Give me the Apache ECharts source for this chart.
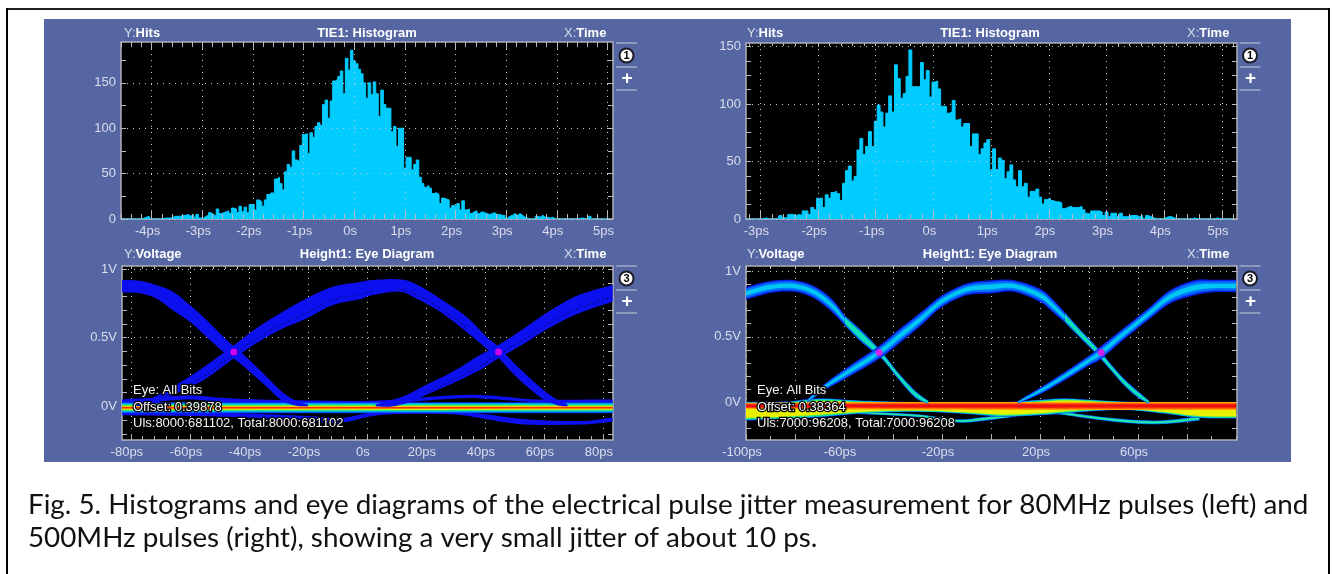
<!DOCTYPE html>
<html><head><meta charset="utf-8">
<style>html,body{margin:0;padding:0;background:#fff}#c{width:1333px;height:574px}</style>
<script src="https://cdn.jsdelivr.net/npm/echarts@6/dist/echarts.min.js"></script>
</head><body><div id="c"></div>
<script>
// ---------- histogram values (hits per 0.05 ps bin) ----------
const binWidth = 0.05;
const binStartLeft = -4.6;
const hitsLeft = [
 0,0,0,0,0,0,0,0,0,1,2,3,0,0,0,0,0,1,1,1,2,3,
 3,3,4,4,5,3,5,2,5,1,1,3,4,7,5,3,11,6,7,8,
 9,6,12,11,7,14,8,13,7,16,16,10,21,19,14,21,27,29,28,44,46,
 39,32,52,60,57,75,65,63,81,93,94,72,95,90,102,106,103,126,131,111,130,152,154,157,163,138,177,164,
 186,174,171,165,160,150,133,150,137,151,138,113,142,126,122,122,96,102,80,100,100,56,68,68,54,60,65,46,39,35,
 37,34,28,29,27,17,23,22,21,12,15,14,17,10,20,10,11,6,8,9,6,8,7,6,5,6,7,5,5,4,
 4,1,3,4,6,4,6,4,2,1,0,0,0,3,2,4,2,2,1,2,0,0,0,0,0,0,0,0,0,0,1,1,0,0,3,0,0,0,0,0,0,0,0];
const binStartRight = -3.25;
const hitsRight = [
 0,0,0,0,0,0,0,1,0,0,0,0,3,1,1,4,4,3,4,3,7,7,4,10,8,18,18,10,21,18,23,24,22,16,
 31,42,46,33,37,60,70,56,63,76,63,85,99,93,80,92,107,93,134,122,105,109,124,147,115,115,115,136,121,129,
 106,119,120,113,98,98,92,93,103,86,87,80,83,83,63,74,74,56,61,66,69,42,61,43,53,51,35,41,47,34,28,42,28,31,
 19,24,24,26,19,13,17,18,16,15,15,14,9,10,11,10,10,10,11,8,5,4,7,7,7,6,3,6,2,5,5,2,5,2,2,3,3,3,2,3,0,3,2,1,
 0,0,0,1,2,2,1,0,0,0,0,0,0,1,0,0,0,0,0,0,0,1,0,0,0,0,0,0];

// ---------- axis ticks ----------
const hitsTicksLeft = [0,50,100,150];
const hitsTicksRight = [0,50,100,150];
const psTicksLeft = [-4,-3,-2,-1,0,1,2,3,4,5];
const psTicksRight = [-3,-2,-1,0,1,2,3,4,5];
const voltTicks = [0,0.5,1];
const eyeTicksLeft = [-80,-60,-40,-20,0,20,40,60,80];
const eyeTicksRight = [-100,-80,-60,-40,-20,0,20,40,60,80];
const eyeLabelsRight = [-100,-60,-20,20,60];

// ---------- eye-diagram envelopes: [time ps, upper V, lower V] ----------
const fallLeftA = [[-83,.92,.83],[-77,.915,.823],[-71.4,.883,.786],[-65.8,.835,.70],[-60,.738,.616],[-54.4,.629,.507],[-48.7,.507,.398],[-45,.434,.345],[-41,.362,.277],[-34,.216,.143],[-28.7,.105,.04],[-24,.04,.005],[-20,.015,0]];
const riseLeftA = [[-78,.02,0],[-72,.07,.02],[-68,.119,.058],[-61,.204,.131],[-54.4,.30,.204],[-45,.447,.35],[-37.5,.568,.459],[-29.6,.675,.556],[-20.5,.786,.64],[-11.5,.871,.738],[-2.5,.905,.78],[2,.92,.81],[11,.925,.835],[16.7,.89,.786],[24.7,.786,.69],[33.7,.653,.544],[40.5,.507,.422],[44.6,.434,.352],[50.6,.30,.216],[58.5,.143,.07],[64.2,.052,.01],[68,.015,0]];
const riseLeftB = [[3,.015,0],[7.7,.04,-.002],[13.4,.083,.022],[20,.155,.083],[29,.252,.167],[38.3,.374,.265],[44.6,.447,.35],[52.5,.556,.447],[61.5,.689,.568],[71.7,.81,.677],[83.3,.883,.762]];
const baseLeft = [[-83,.03,-.05],[0,.03,-.05],[83.3,.03,-.05]];
const overLeft = [[-83,.05,.02],[-71,.065,.035],[-60,.08,.05],[-48,.06,.03],[-37,.05,.025],[-26,.045,.02],[0,.04,.02],[13,.055,.03],[25,.075,.05],[36,.085,.06],[47,.07,.045],[58,.05,.03],[83.3,.05,.03]];
const underLeft = [[-83,-.04,-.065],[-60,-.045,-.07],[-43,-.05,-.08],[-20,-.07,-.105],[-9,-.085,-.12],[2,-.045,-.07],[13,-.035,-.055],[30,-.04,-.06],[41,-.06,-.095],[52,-.09,-.13],[64,-.105,-.135],[75,-.105,-.13],[83.3,-.08,-.11]];

const topRightA = [[-100,.88,.783],[-90,.926,.834],[-80,.931,.842],[-72,.885,.79],[-65,.79,.689],[-59.7,.663,.587]];
const fallRightA = [[-59.7,.663,.587],[-53,.55,.46],[-45.7,.41,.35],[-42,.325,.275],[-38,.23,.18],[-31,.09,.035],[-25.6,.012,-.012]];
const riseRightA = [[-75,.02,-.005],[-68,.14,.09],[-58.4,.27,.19],[-45.7,.43,.33],[-38,.55,.44],[-28.5,.69,.587],[-20,.816,.727],[-10,.906,.816],[0,.931,.83],[9.5,.931,.842],[20,.867,.765],[25,.79,.69],[30,.69,.61]];
const fallRightB = [[30,.69,.61],[36.7,.55,.485],[42.8,.43,.37],[48.9,.293,.242],[54.3,.18,.128],[59.7,.09,.038],[64.5,.013,-.013]];
const riseRightB = [[11,.01,-.01],[20.3,.115,.064],[30,.23,.166],[40,.357,.28],[45,.43,.33],[53,.55,.46],[64,.714,.625],[73,.855,.752],[83,.931,.816],[91,.935,.84],[100,.935,.84]];
const mainRight = [[-100,.005,-.14],[-85,.005,-.13],[-70,.03,-.115],[-55,.015,-.09],[-40,.005,-.075],[-25,0,-.075],[-10,0,-.09],[5,0,-.11],[20,.02,-.10],[30,.03,-.085],[40,.02,-.07],[55,.005,-.06],[70,0,-.085],[85,-.01,-.12],[100,-.01,-.125]];
const coreRight = [[-100,-.015,-.04],[-50,-.012,-.042],[0,-.012,-.044],[50,-.012,-.044],[100,-.012,-.044]];
const underRightA = [[-60,-.065,-.085],[-31,-.09,-.112],[-14,-.13,-.155],[-2,-.11,-.14],[10,-.09,-.11]];
const underRightB = [[20,-.06,-.078],[30,-.075,-.098],[45,-.11,-.138],[60,-.135,-.165],[72,-.135,-.165],[85,-.105,-.14]];

const crossLeft = [[-45.1,.396],[44.6,.396]];
const crossRight = [[-45.7,.38],[45,.38]];

// ---------- text ----------
const captionLines = [
 'Fig. 5. Histograms and eye diagrams of the electrical pulse jitter measurement for 80MHz pulses (left) and',
 '500MHz pulses (right), showing a very small jitter of about 10 ps.'
];

// ---------- styles / layout ----------
const SANS = '"Liberation Sans", Arial, sans-serif';
const labelColor = '#dadeeb', tickColor = '#b9bac0', panelBlue = '#5566a3', dotColor = '#c8c8c8';
const grids = [
 {left:121, top:42, width:492, height:177},
 {left:746, top:43, width:491, height:176},
 {left:122, top:266, width:491, height:174},
 {left:746, top:266, width:491, height:174}
].map(g => Object.assign(g, {show:true, backgroundColor:'#000', borderColor:'#aeb0ba', borderWidth:1.5}));

function steps(min, max, step) { const o = []; for (let i = Math.ceil(min/step); i*step <= max; i++) o.push(+(i*step).toFixed(4)); return o; }

function makeAxes(dim, gridIndex, min, max, majors, minorStep, labels, fmt, majorLen, minorLen, oppLen) {
  const main = dim === 'x' ? 'bottom' : 'left', opp = dim === 'x' ? 'top' : 'right';
  const tl = {color: tickColor, width: 1};
  const base = {type:'value', gridIndex, min, max, silent:true, z:3, axisLine:{show:false, onZero:false}, axisLabel:{show:false}, splitLine:{show:false}};
  const labelExtra = dim === 'x' ? {margin:6, padding:[0,8,0,0]} : {margin:5};
  const minors = steps(min, max, minorStep);
  return [
    Object.assign({}, base, {position:main,
      axisTick:{show:true, inside:true, length:majorLen, customValues:majors, lineStyle:tl},
      axisLabel:Object.assign({show:true, customValues:labels, formatter:fmt, color:labelColor, fontSize:13, fontFamily:SANS, hideOverlap:false}, labelExtra),
      splitLine:{show:true, lineStyle:{color:dotColor, width:1, type:[1,5]}}}),
    Object.assign({}, base, {position:opp, axisTick:{show:true, inside:true, length:oppLen, customValues:majors, lineStyle:tl}}),
    Object.assign({}, base, {position:main, axisTick:{show:true, inside:true, length:minorLen, customValues:minors, lineStyle:tl}}),
    Object.assign({}, base, {position:opp, axisTick:{show:true, inside:true, length:Math.min(minorLen, oppLen), customValues:minors, lineStyle:tl}})
  ];
}
const psFmt = v => v === 0 ? '0s' : v + 'ps';
const plainFmt = v => String(v);
const voltFmt = v => v + 'V';

const xAxes = [].concat(
  makeAxes('x',0,-4.605,5.11,psTicksLeft,0.2,psTicksLeft,psFmt,9,5,8),
  makeAxes('x',1,-3.248,5.26,psTicksRight,0.2,psTicksRight,psFmt,9,5,3),
  makeAxes('x',2,-83,83.4,eyeTicksLeft,4,eyeTicksLeft,psFmt,6,4,3),
  makeAxes('x',3,-100,100.4,eyeTicksRight,10,eyeLabelsRight,psFmt,6,4,3)
);
const yAxes = [].concat(
  makeAxes('y',0,0,195,hitsTicksLeft,25,hitsTicksLeft,plainFmt,5,5,5),
  makeAxes('y',1,0,153,hitsTicksRight,12.5,hitsTicksRight,plainFmt,5,5,5),
  makeAxes('y',2,-.245,1.022,voltTicks,.1,voltTicks,voltFmt,5,5,5),
  makeAxes('y',3,-.288,1.04,voltTicks,.1,voltTicks,voltFmt,5,5,5)
);

function histSeries(g, start, values) {
  return {type:'line', step:'middle', xAxisIndex:g*4, yAxisIndex:g*4, showSymbol:false, z:2,
    data: values.map((v,i) => [+(start + i*binWidth).toFixed(3), v]),
    lineStyle:{color:'#00ccff', width:1}, itemStyle:{color:'#00ccff'}, areaStyle:{color:'#00ccff', opacity:1}, silent:true};
}
// smooth a screen-space polyline (rendering only; anchor points come from the axis scales)
function spline(pts) {
  const out = [];
  for (let i = 0; i < pts.length - 1; i++) {
    const p0 = pts[Math.max(i-1,0)], p1 = pts[i], p2 = pts[i+1], p3 = pts[Math.min(i+2,pts.length-1)];
    for (let k = 0; k < 8; k++) {
      const t = k/8, t2 = t*t, t3 = t2*t;
      out.push([0,1].map(d => .5*(2*p1[d] + (p2[d]-p0[d])*t + (2*p0[d]-5*p1[d]+4*p2[d]-p3[d])*t2 + (3*p1[d]-p0[d]-3*p2[d]+p3[d])*t3)));
    }
  }
  out.push(pts[pts.length-1]);
  return out;
}
function bandSeries(g, rows, layers) {
  return layers.map(([scale, fill]) => ({
    type:'custom', xAxisIndex:g*4, yAxisIndex:g*4, z:4, silent:true, data:rows,
    dimensions:['t','hi','lo'], encode:{x:0, y:[1,2]},
    renderItem(params, api) {
      if (params.dataIndex !== 0) return null;
      const up = [], dn = [];
      rows.forEach(r => {
        const mid = (r[1]+r[2])/2;
        up.push(api.coord([r[0], mid + (r[1]-mid)*scale]));
        dn.push(api.coord([r[0], mid + (r[2]-mid)*scale]));
      });
      return {type:'polygon', shape:{points:spline(up).concat(spline(dn).reverse())}, style:{fill}};
    }
  }));
}
function speckle(g, rows) {
  return {type:'line', smooth:true, xAxisIndex:g*4, yAxisIndex:g*4, z:5, silent:true, showSymbol:false,
    data: rows.map(r => [r[0], r[2] + (r[1]-r[2])*.27]),
    lineStyle:{color:'#000', width:1.2, type:[1,3], opacity:.75}};
}
const crossSeries = (g, pts) => ({type:'scatter', xAxisIndex:g*4, yAxisIndex:g*4, z:6, silent:true, data:pts,
  symbolSize:7, itemStyle:{color:'#ff00ee'}});

const bluePure = [[1,'#0c10ee']];
const rainbow = [[1,'#0838ff'],[.84,'#009cf5'],[.66,'#00dcc0'],[.5,'#38e848'],[.36,'#f0f000'],[.22,'#ff9800'],[.1,'#ee1010']];
const eyeBlue = [[1,'#0a20e8'],[.74,'#0070ff'],[.36,'#00c8f0']];
const eyeThin = [[1,'#0060f0'],[.62,'#10e0b8']];
const swing = [[1,'#0050f0'],[.7,'#00d0e0'],[.35,'#30e890']];
const mainLayers = [[1,'#0040f0'],[.93,'#00c8e0'],[.84,'#30e870'],[.72,'#e8f000']];
const coreLayers = [[1.9,'#ffa000'],[1.3,'#ff5000'],[.8,'#ee1010']];

const series = [
  histSeries(0, binStartLeft, hitsLeft),
  histSeries(1, binStartRight, hitsRight),
  ...bandSeries(2, overLeft, bluePure),
  ...bandSeries(2, underLeft, bluePure),
  ...bandSeries(2, baseLeft, rainbow),
  ...bandSeries(2, fallLeftA, bluePure),
  ...bandSeries(2, riseLeftA, bluePure),
  ...bandSeries(2, riseLeftB, bluePure),
  speckle(2, riseLeftA.slice(2,12)),
  speckle(2, riseLeftA.slice(12,16)),
  speckle(2, riseLeftB.slice(3)),
  crossSeries(2, crossLeft),
  ...bandSeries(3, underRightA, swing),
  ...bandSeries(3, underRightB, swing),
  ...bandSeries(3, mainRight, mainLayers),
  ...bandSeries(3, coreRight, coreLayers),
  ...bandSeries(3, fallRightA, eyeThin),
  ...bandSeries(3, fallRightB, eyeThin),
  ...bandSeries(3, topRightA, eyeBlue),
  ...bandSeries(3, riseRightA, eyeBlue),
  ...bandSeries(3, riseRightB, eyeBlue),
  crossSeries(3, crossRight)
];

// panel headers
const rich = {r:{color:labelColor, fontSize:13, fontWeight:'normal', fontFamily:SANS}, b:{color:'#fff', fontSize:13, fontWeight:'bold', fontFamily:SANS}};
function head(text, left, top, align) {
  return {text, left, top, textAlign:align||'left', padding:0, textStyle:{rich, color:'#fff', fontSize:13, fontWeight:'normal'}};
}
const titles = [
  head('{r|Y:}{b|Hits}',124,27), head('{b|TIE1: Histogram}',367,27,'center'), head('{r|X:}{b|Time}',564,27),
  head('{r|Y:}{b|Hits}',747,27), head('{b|TIE1: Histogram}',990,27,'center'), head('{r|X:}{b|Time}',1187,27),
  head('{r|Y:}{b|Voltage}',124,248), head('{b|Height1: Eye Diagram}',367,248,'center'), head('{r|X:}{b|Time}',564,248),
  head('{r|Y:}{b|Voltage}',747,248), head('{b|Height1: Eye Diagram}',990,248,'center'), head('{r|X:}{b|Time}',1187,248)
];

// decorations
const g = [];
const rect = (x,y,w,h,fill,z) => ({type:'rect', silent:true, z:z||-10, shape:{x,y,width:w,height:h}, style:{fill}});
g.push(rect(6,8,1324,2,'#222'), rect(6,8,2,566,'#000'), rect(1328,8,2,566,'#000'));
g.push(rect(44,19,1247,443,panelBlue));
function rail(x, top, num) {
  [0,24,47].forEach(d => g.push({type:'line', silent:true, z:20, shape:{x1:x, y1:top+d, x2:x+21, y2:top+d}, style:{stroke:'#c6cad8', lineWidth:1}}));
  g.push({type:'circle', silent:true, z:20, shape:{cx:x+10.5, cy:top+12.5, r:7}, style:{fill:'#fff', stroke:'#1c1c28', lineWidth:2}});
  g.push({type:'text', silent:true, z:21, style:{text:num, x:x+10.5, y:top+12.5, align:'center', verticalAlign:'middle', fill:'#000', font:'bold 11px '+SANS}});
  g.push({type:'text', silent:true, z:21, style:{text:'+', x:x+11, y:top+35.5, align:'center', verticalAlign:'middle', fill:'#fff', font:'bold 19px '+SANS}});
}
rail(616,43,'1'); rail(1239.5,43,'1'); rail(616,266,'3'); rail(1239.5,266,'3');
function note(text, x, y) {
  g.push({type:'text', silent:true, z:30, style:{text, x, y, align:'left', verticalAlign:'middle', fill:'#f4f4f4', stroke:'#000', lineWidth:2.5, font:'13px '+SANS}});
}
note('Eye: All Bits',133,390); note('Offset: 0.39878',133,407); note('Uls:8000:681102, Total:8000:681102',133,423);
note('Eye: All Bits',757,390); note('Offset: 0.38364',757,407); note('Uls:7000:96208, Total:7000:96208',757,423);
g.push({type:'text', silent:true, z:30, style:{text:captionLines[0], x:28, y:505, align:'left', verticalAlign:'middle', fill:'#111', font:'27.8px Lato, sans-serif'}});
g.push({type:'text', silent:true, z:30, style:{text:captionLines[1], x:28, y:538, align:'left', verticalAlign:'middle', fill:'#111', font:'27.8px Lato, sans-serif'}});

const chart = echarts.init(document.getElementById('c'), null, {renderer:'canvas', width:1333, height:574});
chart.setOption({animation:false, backgroundColor:'#fff', tooltip:{show:false}, title:titles, grid:grids, xAxis:xAxes, yAxis:yAxes, series, graphic:{elements:g}});
</script></body></html>
